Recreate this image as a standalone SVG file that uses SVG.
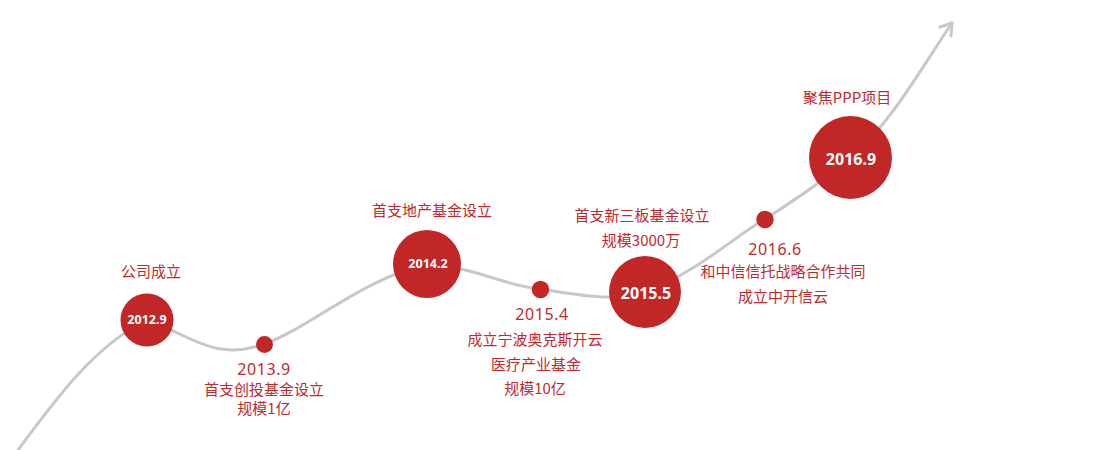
<svg xmlns="http://www.w3.org/2000/svg" width="1100" height="450" viewBox="0 0 1100 450">
<style>
.line{fill:none;stroke:#c8c8c8;stroke-width:3;stroke-linecap:round;stroke-linejoin:round}
.big{fill:#c12727}
.dot{fill:#c12727}
.lbl{font-family:"Noto Sans CJK SC","Noto Sans",sans-serif;font-size:15px;fill:#c4282d;text-anchor:middle}
.yr{font-family:"Noto Sans","Noto Sans CJK SC",sans-serif;font-size:16px;fill:#c4282d;text-anchor:middle;letter-spacing:0.6px}
.in{font-family:"Noto Sans","Noto Sans CJK SC",sans-serif;font-weight:bold;fill:#ffffff;text-anchor:middle}
</style>
<rect width="1100" height="450" fill="#ffffff"/>
<g id="connectors">
<path class="line" d="M18 450 C55 400,95 345,147 320 C190 335,215 362,264 344 C310 328,360 280,427 264 C480 268,500 285,540 289 C580 295,610 302,645 292 C700 270,730 240,765 219 C795 200,825 180,850 158 C890 125,920 70,952 23"/>
<polyline class="line" points="940,27 952,23 951,36"/>
</g>
<g id="n2012">
<circle class="big" cx="147" cy="320" r="26.5"/>
<text class="in" x="147" y="324" font-size="12.5">2012.9</text>
<text class="lbl" x="151" y="277">公司成立</text>
</g>
<g id="n2013">
<circle class="dot" cx="264.5" cy="344.5" r="8.5"/>
<text class="yr" x="264" y="375">2013.9</text>
<text class="lbl" x="264" y="395" font-size="14.5">首支创投基金设立</text>
<text class="lbl" x="264" y="414" font-size="14.5">规模1亿</text>
</g>
<g id="n2014">
<circle class="big" cx="427" cy="264" r="34"/>
<text class="in" x="428" y="268" font-size="12.5">2014.2</text>
<text class="lbl" x="432" y="216">首支地产基金设立</text>
</g>
<g id="n2015a">
<circle class="dot" cx="540.5" cy="289.5" r="8.7"/>
<text class="yr" x="542" y="320">2015.4</text>
<text class="lbl" x="535" y="345">成立宁波奥克斯开云</text>
<text class="lbl" x="536" y="370">医疗产业基金</text>
<text class="lbl" x="535" y="394">规模10亿</text>
</g>
<g id="n2015b">
<circle class="big" cx="645" cy="292" r="36"/>
<text class="in" x="646" y="299" font-size="16" font-weight="600">2015.5</text>
<text class="lbl" x="642" y="221">首支新三板基金设立</text>
<text class="lbl" x="641" y="246">规模3000万</text>
</g>
<g id="n2016a">
<circle class="dot" cx="765" cy="219.5" r="8.7"/>
<text class="yr" x="775" y="255">2016.6</text>
<text class="lbl" x="783" y="277">和中信信托战略合作共同</text>
<text class="lbl" x="783" y="302">成立中开信云</text>
</g>
<g id="n2016b">
<circle class="big" cx="850.5" cy="157.5" r="41.5"/>
<text class="in" x="851" y="165" font-size="16">2016.9</text>
<text class="lbl" x="847" y="103">聚焦PPP项目</text>
</g>
</svg>
